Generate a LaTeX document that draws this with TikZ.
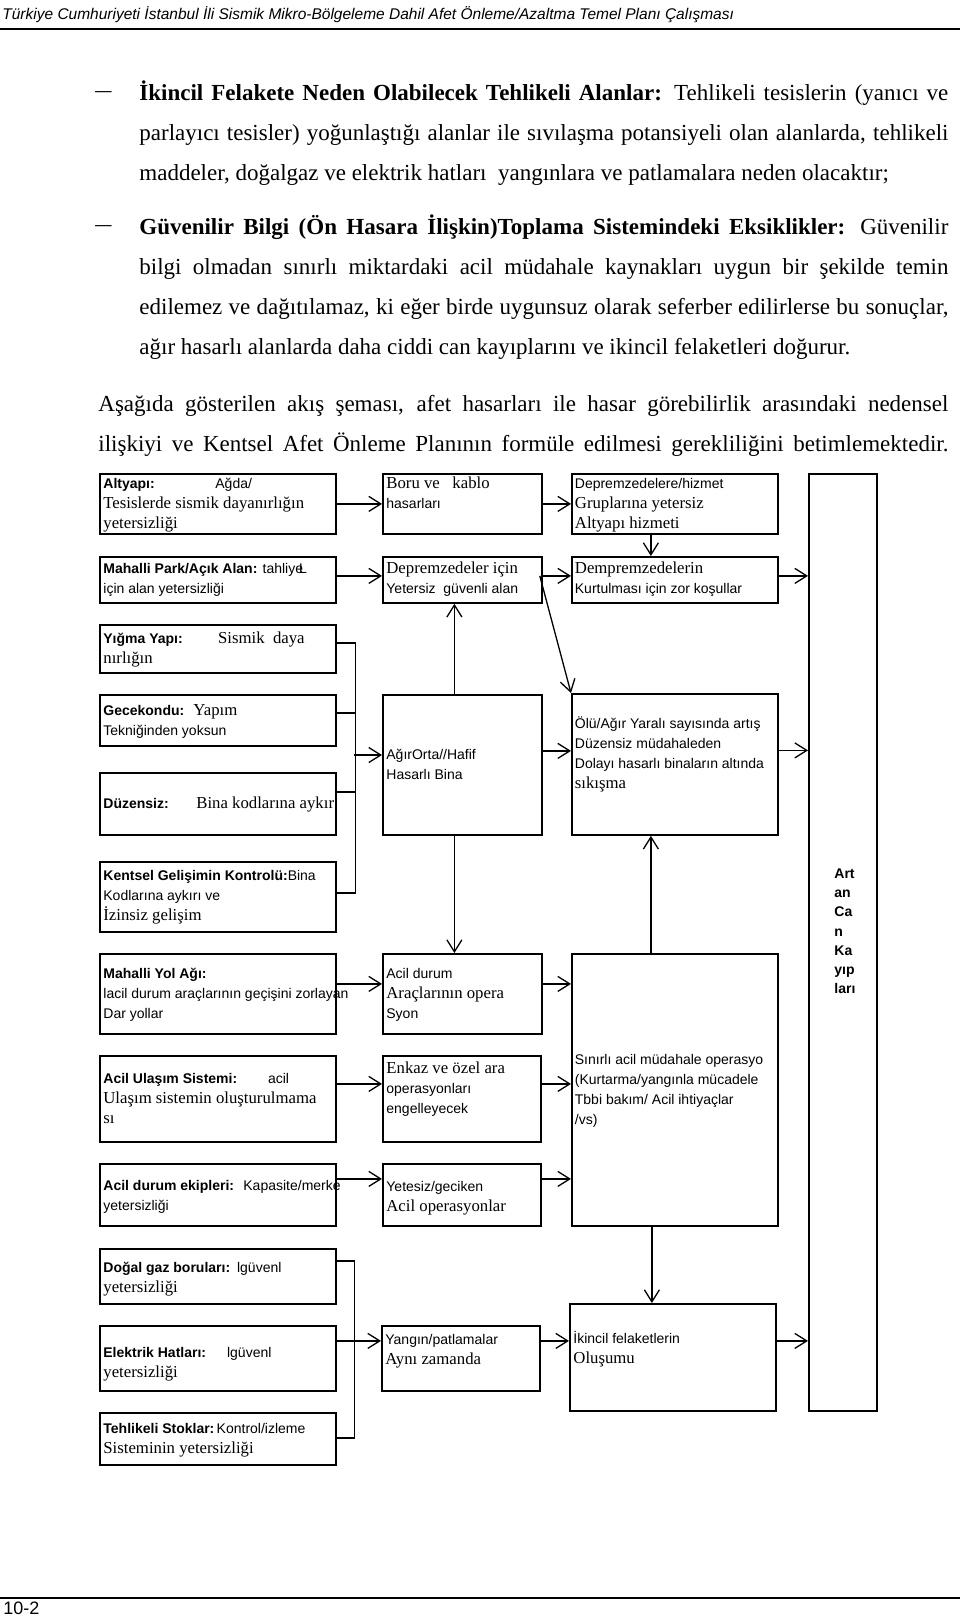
\documentclass[tikz,border=0pt]{standalone}
\usepackage{fontspec}
\setmainfont{Liberation Serif}
\newfontfamily\arialfam{Liberation Sans}
\usetikzlibrary{arrows.meta}
\newcommand{\yaziA}{\arialfam\mdseries\fontsize{14}{20}\selectfont}
\newcommand{\yaziB}{\arialfam\bfseries\fontsize{14}{20}\selectfont}
\newcommand{\yaziT}{\rmfamily\mdseries\fontsize{16.75}{20}\selectfont}

\begin{document}
\begin{tikzpicture}[x=1pt,y=-1pt,>={Straight Barb[length=12pt,width=15pt]},thick,
  kutu/.style={draw,line width=1.8pt,anchor=north west,inner sep=0pt},
  yazi/.style={anchor=north west,inner sep=0pt,align=left,font=\yaziA},
  govde/.style={anchor=base west,inner sep=0pt,font=\fontsize{23}{40}\selectfont},
  ok/.style={->,line width=1.3pt}]

\useasboundingbox (0,0) rectangle (960,1617);

% page head and foot
\node[anchor=base west,inner sep=0pt,font={\arialfam\itshape\fontsize{15.5}{18}\selectfont}] (baslik) at (2,19) {Türkiye Cumhuriyeti İstanbul İli Sismik Mikro-Bölgeleme Dahil Afet Önleme/Azaltma Temel Planı Çalışması};
\draw[line width=2.5pt] (0,29) -- (960,29);
\draw[line width=2pt] (0,1598) -- (960,1598);
\node[anchor=base west,inner sep=0pt,font={\arialfam\fontsize{18}{20}\selectfont}] (sayfa) at (3,1614) {10-2};

% text
\node[govde] (tire1) at (95,97) {\scalebox{1.4}[1]{–}};
\node[govde] (p1a) at (139,100) {\makebox[809pt][s]{\textbf{İkincil Felakete Neden Olabilecek Tehlikeli Alanlar:} Tehlikeli tesislerin (yanıcı ve}};
\node[govde] (p1b) at (139,140) {\makebox[809pt][s]{parlayıcı tesisler) yoğunlaştığı alanlar ile sıvılaşma potansiyeli olan alanlarda, tehlikeli}};
\node[govde] (p1c) at (139,180) {maddeler, doğalgaz ve elektrik hatları\ \ yangınlara ve patlamalara neden olacaktır;};
\node[govde] (tire2) at (95,231) {\scalebox{1.4}[1]{–}};
\node[govde] (p2a) at (139,234) {\makebox[809pt][s]{\textbf{Güvenilir Bilgi (Ön Hasara İlişkin)Toplama Sistemindeki Eksiklikler:} Güvenilir}};
\node[govde] (p2b) at (139,274) {\makebox[809pt][s]{bilgi olmadan sınırlı miktardaki acil müdahale kaynakları uygun bir şekilde temin}};
\node[govde] (p2c) at (139,314) {\makebox[809pt][s]{edilemez ve dağıtılamaz, ki eğer birde uygunsuz olarak seferber edilirlerse bu sonuçlar,}};
\node[govde] (p2d) at (139,354) {ağır hasarlı alanlarda daha ciddi can kayıplarını ve ikincil felaketleri doğurur.};
\node[govde] (p3a) at (98,411) {\makebox[850pt][s]{Aşağıda gösterilen akış şeması, afet hasarları ile hasar görebilirlik arasındaki nedensel}};
\node[govde] (p3b) at (98,451) {\makebox[850pt][s]{ilişkiyi ve Kentsel Afet Önleme Planının formüle edilmesi gerekliliğini betimlemektedir.}};

% boxes
\node[kutu,minimum width=236pt,minimum height=60pt] (altyapi) at (99,473) {};
\node[kutu,minimum width=236pt,minimum height=46pt] (mpark) at (99,556) {};
\node[kutu,minimum width=236pt,minimum height=48pt] (yigma) at (99,624) {};
\node[kutu,minimum width=236pt,minimum height=51pt] (gecekondu) at (99,694) {};
\node[kutu,minimum width=236pt,minimum height=62pt] (duzensiz) at (99,772) {};
\node[kutu,minimum width=236pt,minimum height=70pt] (kentsel) at (99,861) {};
\node[kutu,minimum width=236pt,minimum height=80pt] (myol) at (99,953) {};
\node[kutu,minimum width=236pt,minimum height=86pt] (aulasim) at (99,1055) {};
\node[kutu,minimum width=236pt,minimum height=62pt] (aekip) at (99,1163) {};
\node[kutu,minimum width=236pt,minimum height=55pt] (dgaz) at (99,1248) {};
\node[kutu,minimum width=236pt,minimum height=65pt] (elektrik) at (99,1325) {};
\node[kutu,minimum width=236pt,minimum height=52pt] (tstok) at (99,1412) {};

\node[kutu,minimum width=159pt,minimum height=60pt] (boru) at (382,473) {};
\node[kutu,minimum width=159pt,minimum height=46pt] (dguv) at (382,556) {};
\node[kutu,minimum width=159pt,minimum height=140pt] (agir) at (382,694) {};
\node[kutu,minimum width=159pt,minimum height=80pt] (aracop) at (382,953) {};
\node[kutu,minimum width=158pt,minimum height=86pt] (enkaz) at (382,1055) {};
\node[kutu,minimum width=158pt,minimum height=62pt] (yetesiz) at (382,1163) {};
\node[kutu,minimum width=158pt,minimum height=65pt] (yangin) at (381,1325) {};

\node[kutu,minimum width=206pt,minimum height=60pt] (hizmet) at (571,473) {};
\node[kutu,minimum width=206pt,minimum height=46pt] (zorkos) at (571,556) {};
\node[kutu,minimum width=206pt,minimum height=141pt] (olu) at (571,693) {};
\node[kutu,minimum width=206pt,minimum height=272pt] (sinirli) at (571,953) {};
\node[kutu,minimum width=206pt,minimum height=107pt] (ikincil) at (569,1303) {};

\node[kutu,minimum width=68pt,minimum height=937pt] (kayip) at (808,473) {};

% box texts
\node[yazi] (t-altyapi) at ([shift={(4,1)}]altyapi.north west) {\strut\makebox[112pt][l]{\yaziB Altyapı:}Ağda/\\{\yaziT Tesislerde sismik dayanırlığın}\\{\yaziT yetersizliği}};
\node[yazi] (t-mpark) at ([shift={(4,3)}]mpark.north west) {\strut{\yaziB Mahalli Park/Açık Alan:} tahliye\kern-4pt L\\için alan yetersizliği};
\node[yazi] (t-yigma) at ([shift={(4,5)}]yigma.north west) {\strut\makebox[114.7pt][l]{\yaziB Yığma Yapı:}{\yaziT Sismik\ \ daya}\\{\yaziT nırlığın}};
\node[yazi] (t-gecekondu) at ([shift={(4,7)}]gecekondu.north west) {\strut\makebox[90pt][l]{\yaziB Gecekondu:}{\yaziT Yapım}\\Tekniğinden yoksun};
\node[yazi] (t-duzensiz) at ([shift={(4,22)}]duzensiz.north west) {\strut\makebox[93pt][l]{\yaziB Düzensiz:}{\yaziT Bina kodlarına aykır}};
\node[yazi] (t-kentsel) at ([shift={(4,5)}]kentsel.north west) {\strut{\yaziB Kentsel Gelişimin Kontrolü:}Bina\\Kodlarına aykırı ve\\{\yaziT İzinsiz gelişim}};
\node[yazi] (t-myol) at ([shift={(4,11)}]myol.north west) {\strut{\yaziB Mahalli Yol Ağı:}\\lacil durum araçlarının geçişini zorlayan\\Dar yollar};
\node[yazi] (t-aulasim) at ([shift={(4,14)}]aulasim.north west) {\strut\makebox[164.7pt][l]{\yaziB Acil Ulaşım Sistemi:}acil\\{\yaziT Ulaşım sistemin oluşturulmama}\\{\yaziT sı}};
\node[yazi] (t-aekip) at ([shift={(4,13)}]aekip.north west) {\strut\makebox[140pt][l]{\yaziB Acil durum ekipleri:}Kapasite/merke\\yetersizliği};
\node[yazi] (t-dgaz) at ([shift={(4,10)}]dgaz.north west) {\strut\makebox[133.7pt][l]{\yaziB Doğal gaz boruları:}lgüvenl\\{\yaziT yetersizliği}};
\node[yazi] (t-elektrik) at ([shift={(4,18)}]elektrik.north west) {\strut\makebox[123.7pt][l]{\yaziB Elektrik Hatları:}lgüvenl\\{\yaziT yetersizliği}};
\node[yazi] (t-tstok) at ([shift={(4,7)}]tstok.north west) {\strut{\yaziB Tehlikeli Stoklar:}\,Kontrol/izleme\\{\yaziT Sisteminin yetersizliği}};

\node[yazi] (t-boru) at ([shift={(4,1)}]boru.north west) {\yaziT\strut Boru ve\ \ \ kablo\\hasarları};
\node[yazi] (t-dguv) at ([shift={(4,3)}]dguv.north west) {\yaziT\strut Depremzedeler için\\Yetersiz\ \ güvenli alan};
\node[yazi] (t-agir) at ([shift={(4,51)}]agir.north west) {\strut AğırOrta//Hafif\\Hasarlı Bina};
\node[yazi] (t-aracop) at ([shift={(4,11)}]aracop.north west) {\strut Acil durum\\{\yaziT Araçlarının opera}\\Syon};
\node[yazi] (t-enkaz) at ([shift={(4,4)}]enkaz.north west) {\yaziT\strut Enkaz ve özel ara\\\yaziA operasyonları\\engelleyecek};
\node[yazi] (t-yetesiz) at ([shift={(4,14)}]yetesiz.north west) {\strut Yetesiz/geciken\\{\yaziT Acil operasyonlar}};
\node[yazi] (t-yangin) at ([shift={(4,5)}]yangin.north west) {\strut Yangın/patlamalar\\{\yaziT Aynı zamanda}};

\node[yazi] (t-hizmet) at ([shift={(3.5,1)}]hizmet.north west) {\strut Depremzedelere/hizmet\\{\yaziT Gruplarına yetersiz}\\{\yaziT Altyapı hizmeti}};
\node[yazi] (t-zorkos) at ([shift={(3.5,3)}]zorkos.north west) {\yaziT\strut Dempremzedelerin\\Kurtulması için zor koşullar};
\node[yazi] (t-olu) at ([shift={(3.5,21)}]olu.north west) {\strut Ölü/Ağır Yaralı sayısında artış\\Düzensiz müdahaleden\\Dolayı hasarlı binaların altında\\{\yaziT sıkışma}};
\node[yazi] (t-sinirli) at ([shift={(3.5,97)}]sinirli.north west) {\strut Sınırlı acil müdahale operasyo\\(Kurtarma/yangınla mücadele\\Tbbi bakım/ Acil ihtiyaçlar\\/vs)};
\node[yazi] (t-ikincil) at ([shift={(4,26)}]ikincil.north west) {\strut İkincil felaketlerin\\{\yaziT Oluşumu}};
\node[yazi,font=\arialfam\bfseries\fontsize{14}{19.2}\selectfont] (t-kayip) at ([shift={(26,391.6)}]kayip.north west) {\strut Art\\an\\Ca\\n\\Ka\\yıp\\ları};

% connectors
\draw[ok] (altyapi.east) -- (boru.west);
\draw[ok] (boru.east) -- (hizmet.west);
\draw[ok] ([shift={(0,-4)}]mpark.east) -- ([shift={(0,-4)}]dguv.west);
\draw[ok] ([shift={(0,-4)}]dguv.east) -- ([shift={(0,-4)}]zorkos.west);
\coordinate (z1) at ([shift={(0,-4)}]zorkos.east);
\draw[ok] (z1) -- (z1 -| kayip.west);
\draw[ok] ([shift={(-24,0)}]hizmet.south) -- ([shift={(-24,0)}]zorkos.north);
\draw[ok] ([shift={(-3,-4)}]dguv.east) -- (olu.north west);

\coordinate (bus1) at (354,755);
\draw[line width=1.3pt] ([shift={(0,-6)}]yigma.east) -| ([shift={(19,-4)}]kentsel.east) -- ([shift={(0,-4)}]kentsel.east);
\draw[line width=1.3pt] ([shift={(0,-7.5)}]gecekondu.east) -- ++(19,0);
\draw[line width=1.3pt] ([shift={(0,-12)}]duzensiz.east) -- ++(19,0);
\draw[ok] (bus1) -- (bus1 -| agir.west);

\coordinate (a1) at ([shift={(0,-14)}]agir.east);
\draw[ok] (a1) -- (a1 -| olu.west);
\coordinate (a2) at ([shift={(0,-14)}]olu.east);
\draw[ok] (a2) -- (a2 -| kayip.west);
\draw[ok] ([shift={(-8,0)}]agir.north) -- ([shift={(-8,0)}]dguv.south);
\draw[ok] ([shift={(-8,0)}]agir.south) -- ([shift={(-8,0)}]aracop.north);
\draw[ok] ([shift={(-24,0)}]sinirli.north) -- ([shift={(-24,0)}]olu.south);

\draw[ok] ([shift={(0,-10)}]myol.east) -- ([shift={(0,-10)}]aracop.west);
\coordinate (r1) at ([shift={(0,-10)}]aracop.east);
\draw[ok] (r1) -- (r1 -| sinirli.west);
\draw[ok] ([shift={(0,-15)}]aulasim.east) -- ([shift={(0,-15)}]enkaz.west);
\coordinate (r2) at ([shift={(0,-15)}]enkaz.east);
\draw[ok] (r2) -- (r2 -| sinirli.west);
\draw[ok] ([shift={(0,-16)}]aekip.east) -- ([shift={(0,-16)}]yetesiz.west);
\coordinate (r3) at ([shift={(0,-16)}]yetesiz.east);
\draw[ok] (r3) -- (r3 -| sinirli.west);
\coordinate (s1) at ([shift={(-23,0)}]sinirli.south);
\draw[ok] (s1) -- (s1 |- ikincil.north);

\draw[line width=1.3pt] ([shift={(0,-15.5)}]dgaz.east) -| ([shift={(18,-1)}]tstok.east) -- ([shift={(0,-1)}]tstok.east);
\draw[ok] ([shift={(0,-17.5)}]elektrik.east) -- ([shift={(0,-17.5)}]yangin.west);
\coordinate (y1) at ([shift={(0,-17.5)}]yangin.east);
\draw[ok] (y1) -- (y1 -| ikincil.west);
\coordinate (y2) at (ikincil.east |- y1);
\draw[ok] (y2) -- (y2 -| kayip.west);
\end{tikzpicture}
\end{document}
